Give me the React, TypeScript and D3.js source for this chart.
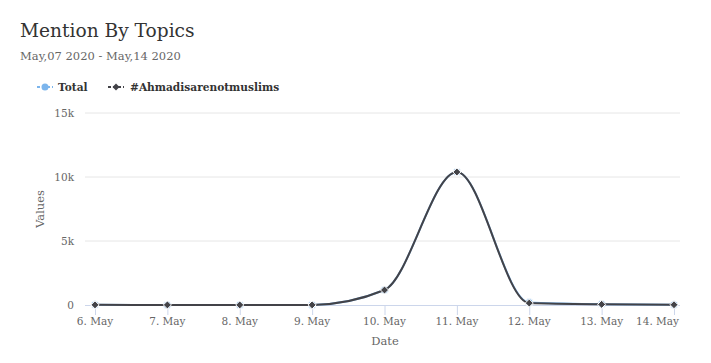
import React from "react";
import * as d3 from "d3";

const categories = ["6. May", "7. May", "8. May", "9. May", "10. May", "11. May", "12. May", "13. May", "14. May"];
const totalValues = [10, 8, 6, 9, 1170, 10390, 190, 60, 20];
const hashtagValues = [10, 8, 6, 9, 1170, 10390, 150, 50, 20];
const yTicks = [0, 5000, 10000, 15000];
const yTickLabels = ["0", "5k", "10k", "15k"];
const seriesNames = ["Total", "#Ahmadisarenotmuslims"];
const seriesColors = ["#7cb5ec", "#434348"];

const W = 711, H = 363;
const FONT = "'DejaVu Serif', serif";

export default function App() {
  const x = d3.scalePoint<string>().domain(categories).range([95, 674]);
  const y = d3.scaleLinear().domain([0, 15000]).range([305, 113]);
  const line = d3.line<number>()
    .x((_, i) => x(categories[i]) as number)
    .y((d) => y(d))
    .curve(d3.curveMonotoneX);
  const series = [totalValues, hashtagValues];
  const diamond = (cx: number, cy: number, r: number) =>
    `M${cx},${cy - r}L${cx + r},${cy}L${cx},${cy + r}L${cx - r},${cy}Z`;

  return (
    <svg width={W} height={H} style={{ position: "absolute", left: 0, top: 0, background: "#fff" }}>
      <rect width={W} height={H} fill="#fff" />
      <text x={20} y={37} fontFamily={FONT} fontSize={18.6} fill="#333">Mention By Topics</text>
      <text x={20} y={60} fontFamily={FONT} fontSize={11.5} fill="#666">May,07 2020 - May,14 2020</text>

      {/* legend */}
      <g fontFamily={FONT} fontSize={10.6} fontWeight="bold" fill="#333">
        <line x1={37} x2={53} y1={87} y2={87} stroke={seriesColors[0]} strokeWidth={2} strokeDasharray="3,2" />
        <circle cx={45} cy={87} r={3.5} fill={seriesColors[0]} />
        <text x={58} y={91}>{seriesNames[0]}</text>
        <line x1={108} x2={124} y1={87} y2={87} stroke={seriesColors[1]} strokeWidth={2} strokeDasharray="3,2" />
        <path d={diamond(116, 87, 3.5)} fill={seriesColors[1]} />
        <text x={130} y={91}>{seriesNames[1]}</text>
      </g>

      {/* grid */}
      {yTicks.slice(1).map((t) => (
        <line key={t} x1={85} x2={680} y1={y(t)} y2={y(t)} stroke="#e6e6e6" strokeWidth={1} />
      ))}
      {yTicks.map((t, i) => (
        <text key={"l" + t} x={74} y={y(t) + 4} textAnchor="end" fontFamily={FONT} fontSize={10.5} fill="#666">
          {yTickLabels[i]}
        </text>
      ))}
      <text transform={`translate(44,209) rotate(-90)`} textAnchor="middle" fontFamily={FONT} fontSize={11.5} fill="#666">Values</text>

      {/* x axis */}
      <line x1={85} x2={680} y1={305.5} y2={305.5} stroke="#ccd6eb" strokeWidth={1} />
      {categories.map((c, i) => {
        const last = i === categories.length - 1;
        return (
          <g key={c}>
            <line x1={(x(c) as number) + 0.5} x2={(x(c) as number) + 0.5} y1={305} y2={315} stroke="#ccd6eb" />
            <text x={last ? 679 : (x(c) as number)} y={325} textAnchor={last ? "end" : "middle"} fontFamily={FONT} fontSize={10.5} fill="#666">{c}</text>
          </g>
        );
      })}
      <text x={385} y={345} textAnchor="middle" fontFamily={FONT} fontSize={11.5} fill="#666">Date</text>

      {/* series */}
      {series.map((vals, si) => (
        <g key={si}>
          <path d={line(vals) || ""} fill="none" stroke={seriesColors[si]} strokeWidth={2} />
          {vals.map((v, i) =>
            si === 0 ? (
              <circle key={i} cx={x(categories[i]) as number} cy={y(v)} r={4} fill={seriesColors[si]} stroke="#fff" strokeWidth={1} />
            ) : (
              <path key={i} d={diamond(x(categories[i]) as number, y(v), 4)} fill={seriesColors[si]} stroke="#fff" strokeWidth={1} />
            )
          )}
        </g>
      ))}
    </svg>
  );
}
